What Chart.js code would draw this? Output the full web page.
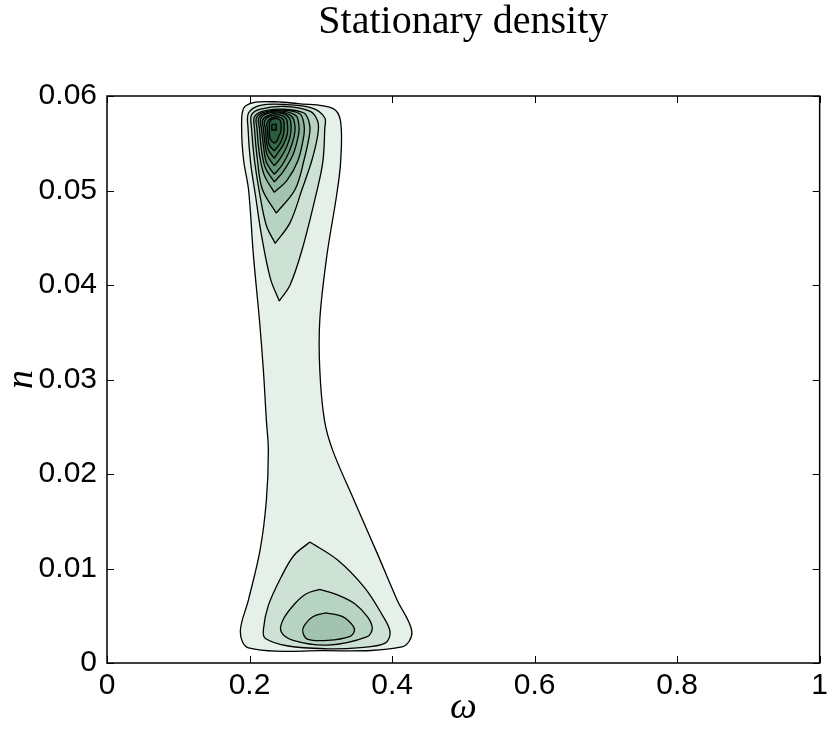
<!DOCTYPE html>
<html>
<head>
<meta charset="utf-8">
<script src="https://cdn.jsdelivr.net/npm/chart.js@4.4.1/dist/chart.umd.min.js"></script>
<style>
html,body{margin:0;padding:0;background:#fff;}
#wrap{width:833px;height:734px;}
</style>
</head>
<body>
<div id="wrap"><canvas id="c" width="833" height="734"></canvas></div>
<script>
// ---- data (omega, n) ----
const titleText = 'Stationary density';
const xTickValues = [0, 0.2, 0.4, 0.6, 0.8, 1];
const xTickLabels = ['0', '0.2', '0.4', '0.6', '0.8', '1'];
const yTickValues = [0, 0.01, 0.02, 0.03, 0.04, 0.05, 0.06];
const yTickLabels = ['0', '0.01', '0.02', '0.03', '0.04', '0.05', '0.06'];

// outermost contour (level 1)
const level1 = [[.2357,.0594],[.268,.0592],[.3167,.0587],[.3278,.0573],[.3278,.0530],[.3222,.0495],[.3083,.0430],[.2986,.0363],[.2986,.0310],[.3051,.0257],[.3167,.0225],[.3468,.0172],[.3792,.0116],[.4069,.0067],[.4278,.0033],[.4139,.0017],[.3000,.0013],[.1986,.0016],[.1871,.0033],[.1986,.0067],[.2149,.0120],[.2236,.0172],[.2264,.0225],[.2236,.0257],[.2194,.0310],[.2139,.0363],[.2056,.0430],[.1986,.0501],[.1917,.0532],[.1889,.0566],[.1917,.0587],[.2056,.0593]];

// upper peak contours (levels 2..12)
const upper2 = [[.2417,.0383],[.2292,.0407],[.2167,.0453],[.2083,.0495],[.2014,.0530],[.1979,.0566],[.1986,.0582],[.2153,.0590],[.2472,.0591],[.2889,.0587],[.3056,.0577],[.3056,.0566],[.3028,.0530],[.2931,.0495],[.2736,.0437],[.2569,.0400]];
const upper3 = [[.2361,.0444],[.2236,.0463],[.2139,.0498],[.2069,.0532],[.2028,.0566],[.2028,.0580],[.2153,.0586],[.2472,.0589],[.2847,.0584],[.2958,.0573],[.2958,.0559],[.2875,.0532],[.2736,.0501],[.2569,.0466]];
const upper4 = [[.2375,.0476],[.2181,.0501],[.2111,.0532],[.2069,.0566],[.2069,.0578],[.2194,.0584],[.2472,.0586],[.2764,.0582],[.2833,.0573],[.2847,.0562],[.2764,.0532],[.2639,.0501]];
const upper5 = [[.2347,.0498],[.2208,.0516],[.2139,.0538],[.2104,.0566],[.2097,.0577],[.2208,.0583],[.2472,.0585],[.2708,.0581],[.2764,.0570],[.2764,.0559],[.2681,.0532],[.2528,.0511]];
const upper6 = [[.2347,.0509],[.2222,.0524],[.2167,.0543],[.2139,.0566],[.2125,.0576],[.2222,.0582],[.2458,.0584],[.2653,.0579],[.2694,.0568],[.2688,.0559],[.2611,.0538],[.2472,.0520]];
const upper7 = [[.2347,.0517],[.2236,.0530],[.2194,.0548],[.2167,.0566],[.2153,.0575],[.2236,.0581],[.2444,.0583],[.2597,.0578],[.2639,.0567],[.2625,.0557],[.2556,.0541],[.2458,.0527]];
const upper8 = [[.2347,.0526],[.2250,.0537],[.2215,.0551],[.2194,.0566],[.2181,.0574],[.2250,.0579],[.2431,.0582],[.2556,.0577],[.2583,.0567],[.2569,.0557],[.2514,.0545],[.2431,.0534]];
const upper9 = [[.2347,.0534],[.2264,.0543],[.2236,.0553],[.2222,.0566],[.2208,.0573],[.2264,.0578],[.2417,.0580],[.2514,.0576],[.2535,.0567],[.2528,.0559],[.2472,.0548],[.2417,.0542]];
const upper10 = [[.2347,.0542],[.2278,.0548],[.2257,.0557],[.2250,.0566],[.2243,.0571],[.2292,.0576],[.2403,.0578],[.2472,.0575],[.2486,.0567],[.2479,.0560],[.2444,.0552],[.2403,.0547]];
const upper11 = [[.2347,.0550],[.2292,.0554],[.2278,.0561],[.2278,.0567],[.2278,.0571],[.2306,.0575],[.2389,.0576],[.2431,.0574],[.2444,.0568],[.2438,.0562],[.2410,.0557],[.2382,.0552]];
const upper12 = [[.2313,.0570],[.2375,.0570],[.2375,.0564],[.2313,.0564]];

// lower peak contours (levels 2..4)
const lower2 = [[.2847,.0128],[.3236,.0109],[.3611,.0080],[.3861,.0051],[.3972,.0033],[.3903,.0021],[.3514,.0016],[.3097,.0015],[.2542,.0018],[.2222,.0026],[.2194,.0035],[.2264,.0061],[.2444,.0091],[.2625,.0114]];
const lower3 = [[.2982,.0078],[.3236,.0072],[.3472,.0063],[.3653,.0049],[.3722,.0037],[.3653,.0028],[.3097,.0019],[.2611,.0024],[.2444,.0033],[.2472,.0046],[.2639,.0063],[.2792,.0073]];
const lower4 = [[.3069,.0053],[.3306,.0049],[.3444,.0040],[.3472,.0034],[.3403,.0028],[.3097,.0024],[.2819,.0025],[.2750,.0032],[.2764,.0039],[.2889,.0049]];

// ---- styling ----
const levelColors = ['#e5f0e9','#cde2d5','#b7d3c2','#a1c3af','#8cb49c','#78a58a','#659778','#538867','#437a57','#356b49','#2a5d3d','#1f4f33'];

const contours = [
  {pts: level1, lvl: 1},
  {pts: upper2, lvl: 2}, {pts: lower2, lvl: 2},
  {pts: upper3, lvl: 3}, {pts: lower3, lvl: 3},
  {pts: upper4, lvl: 4}, {pts: lower4, lvl: 4},
  {pts: upper5, lvl: 5}, {pts: upper6, lvl: 6}, {pts: upper7, lvl: 7},
  {pts: upper8, lvl: 8}, {pts: upper9, lvl: 9}, {pts: upper10, lvl: 10},
  {pts: upper11, lvl: 11}, {pts: upper12, lvl: 12, sharp: true}
];

const datasets = contours.map((c, i) => {
  const data = c.pts.map(p => ({x: p[0], y: p[1]}));
  data.push({x: c.pts[0][0], y: c.pts[0][1]});
  return {
    data,
    showLine: true,
    fill: 'shape',
    backgroundColor: levelColors[c.lvl - 1],
    borderColor: '#000',
    borderWidth: 1.3,
    pointRadius: 0,
    pointHoverRadius: 0,
    tension: c.sharp ? 0 : 0.35,
    order: 100 - i
  };
});

const framePlugin = {
  id: 'frame',
  afterDatasetsDraw(chart) {
    const {ctx, chartArea: a, scales: {x, y}} = chart;
    ctx.save();
    ctx.strokeStyle = '#000';
    ctx.lineWidth = 1;
    const L = 7;
    ctx.beginPath();
    xTickValues.forEach(v => {
      const px = Math.round(x.getPixelForValue(v)) + 0.5;
      ctx.moveTo(px, a.bottom); ctx.lineTo(px, a.bottom - L);
      ctx.moveTo(px, a.top); ctx.lineTo(px, a.top + L);
    });
    yTickValues.forEach(v => {
      const py = Math.round(y.getPixelForValue(v)) + 0.5;
      ctx.moveTo(a.left, py); ctx.lineTo(a.left + L, py);
      ctx.moveTo(a.right, py); ctx.lineTo(a.right - L, py);
    });
    ctx.stroke();
    ctx.lineWidth = 1.5;
    ctx.strokeRect(a.left, a.top, a.right - a.left, a.bottom - a.top);
    ctx.restore();
  }
};

new Chart(document.getElementById('c'), {
  type: 'scatter',
  data: {datasets},
  options: {
    responsive: false,
    animation: false,
    events: [],
    layout: {padding: {left: 0, right: 6, top: 0, bottom: 0}},
    plugins: {
      legend: {display: false},
      tooltip: {enabled: false},
      title: {
        display: true,
        text: titleText,
        fullSize: false,
        color: '#000',
        font: {family: "'Liberation Serif', serif", size: 40, weight: 'normal', lineHeight: 1},
        padding: {top: 2, bottom: 54}
      }
    },
    scales: {
      x: {
        type: 'linear', min: 0, max: 1,
        afterFit: s => { s.height = 71; },
        afterBuildTicks: s => { s.ticks = xTickValues.map(v => ({value: v})); },
        ticks: {
          color: '#000', padding: 5, maxRotation: 0, autoSkip: false,
          font: {family: "'Liberation Sans', Arial, sans-serif", size: 30},
          callback: (v, i) => xTickLabels[i]
        },
        grid: {display: false, drawTicks: false},
        border: {display: false},
        title: {
          display: true, text: 'ω', color: '#000',
          font: {family: "'Liberation Serif', serif", size: 38, style: 'italic', lineHeight: 1},
          padding: {top: 0, bottom: 7}
        }
      },
      y: {
        type: 'linear', min: 0, max: 0.06,
        afterFit: s => { s.width = 107; },
        afterBuildTicks: s => { s.ticks = yTickValues.map(v => ({value: v})); },
        ticks: {
          color: '#000', padding: 10, autoSkip: false,
          font: {family: "'Liberation Sans', Arial, sans-serif", size: 30},
          callback: (v, i) => yTickLabels[i]
        },
        grid: {display: false, drawTicks: false},
        border: {display: false},
        title: {
          display: true, text: 'n', color: '#000',
          font: {family: "'Liberation Serif', serif", size: 38, style: 'italic', lineHeight: 1},
          padding: {top: 3, bottom: 0}
        }
      }
    }
  },
  plugins: [framePlugin]
});
</script>
</body>
</html>
